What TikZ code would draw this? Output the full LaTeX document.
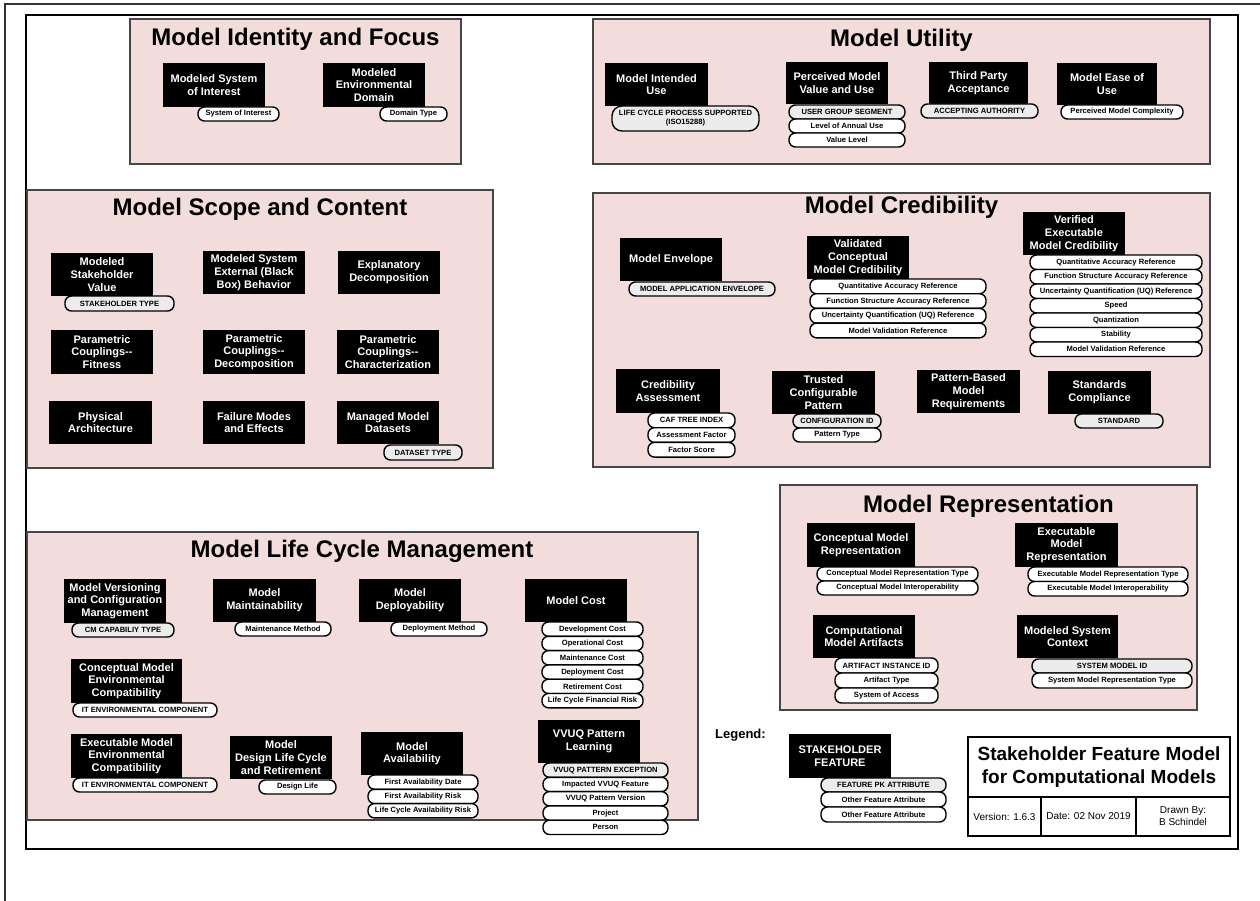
\documentclass[tikz,border=0pt]{standalone}
\usepackage{fontspec}
\setmainfont{Liberation Sans}
\definecolor{grpfill}{RGB}{242,221,220}
\definecolor{pkfill}{RGB}{236,236,236}
\definecolor{grpline}{RGB}{70,70,70}
\newcommand\ftitle{\fontsize{24}{28}\selectfont\bfseries}
\newcommand\ffeat{\fontsize{11}{12.7}\selectfont\bfseries}
\newcommand\fpill{\fontsize{7.6}{9}\selectfont\bfseries}
\tikzset{
  grpbox/.style={draw=grpline, fill=grpfill, line width=1.2pt, inner sep=0pt},
  grptitle/.style={font=\ftitle, inner sep=0pt, anchor=base},
  featbox/.style={fill=black, text=white, font=\ffeat, align=center, inner sep=0pt},
  pillbox/.style={draw=black, fill=white, line width=1.4pt, rounded corners=6.5pt, font=\fpill, align=center, inner sep=0pt},
  cell/.style={draw=black, line width=1.5pt, inner sep=0pt, align=center}
}
% box from corners: style, name, x1, y1, x2, y2, text
\newcommand\bx[7]{\node[#1, minimum width={#5-#3}, minimum height={#6-#4}] (#2) at ({(#3+#5)/2},{(#4+#6)/2}) {#7};}
\newcommand\grp[5]{\bx{grpbox}{#1}{#2}{#3}{#4}{#5}{}}
\newcommand\fb[6]{\bx{featbox}{#1}{#2}{#3}{#4}{#5}{#6}}
\newcommand\pw[6]{\bx{pillbox}{#1}{#2}{#3}{#4}{#5}{#6}}
\newcommand\pg[6]{\bx{pillbox,fill=pkfill}{#1}{#2}{#3}{#4}{#5}{#6}}
% stack: name prefix, x1, x2, y0, step, list
\newcommand\pstack[6]{\foreach \t [count=\i] in {#6} {\node[pillbox, minimum width={#3-#2}, minimum height={#5}] (#1\i) at ({(#2+#3)/2},{#4+#5*(\i-0.5)}) {\t};}}
\begin{document}
\begin{tikzpicture}[x=1pt,y=-1pt]
\useasboundingbox (0,0) rectangle (1260,901);
\fill[white] (0,0) rectangle (1260,901);
\draw[line width=2pt, black!80] (5,901) -- (5,4) -- (1260,4);
\bx{draw=black, line width=1.2pt, inner sep=0pt}{frame}{26}{15}{1238}{849}{}

% ---------- Model Identity and Focus
\grp{gid}{130}{19}{461}{164}
\node[grptitle] (gidt) at (295.5,46) {Model Identity and Focus};
\fb{msoi}{163}{63}{265}{107}{Modeled System\\of Interest}
\pw{msoia}{198}{107}{279}{121}{System of Interest}
\fb{med}{323}{63}{425}{107}{Modeled\\Environmental\\Domain}
\pw{meda}{380}{107}{447}{121}{Domain Type}

% ---------- Model Utility
\grp{gut}{593}{19}{1210}{164}
\node[grptitle] (gutt) at (901.5,47) {Model Utility};
\fb{miu}{605}{63}{708}{106}{Model Intended\\Use}
\bx{pillbox,fill=pkfill,rounded corners=10pt}{miua}{612}{106}{759}{131}{LIFE CYCLE PROCESS SUPPORTED\\(ISO15288)}
\fb{pmv}{786}{62}{888}{104}{Perceived Model\\Value and Use}
\pg{pmva}{789}{105}{905}{119}{USER GROUP SEGMENT}
\pstack{pmvb}{789}{905}{119}{14}{Level of Annual Use, Value Level}
\fb{tpa}{929}{62}{1028}{104}{Third Party\\Acceptance}
\pg{tpaa}{921}{104}{1038}{118}{ACCEPTING AUTHORITY}
\fb{meu}{1057}{63}{1157}{105}{Model Ease of\\Use}
\pw{meua}{1061}{105}{1183}{119}{Perceived Model Complexity}

% ---------- Model Scope and Content
\grp{gsc}{27}{190}{493}{468}
\node[grptitle] (gsct) at (260,216) {Model Scope and Content};
\fb{msv}{51}{253}{153}{296}{Modeled\\Stakeholder\\Value}
\pg{msva}{65}{296}{174}{311}{STAKEHOLDER TYPE}
\fb{mse}{203}{251}{305}{294}{Modeled System\\External (Black\\Box) Behavior}
\fb{exd}{338}{251}{440}{294}{Explanatory\\Decomposition}
\fb{pcf}{51}{330}{153}{374}{Parametric\\Couplings-{}-\\Fitness}
\fb{pcd}{203}{330}{305}{374}{Parametric\\Couplings-{}-\\Decomposition}
\fb{pcc}{337}{330}{439}{374}{Parametric\\Couplings-{}-\\Characterization}
\fb{pha}{49}{401}{152}{444}{Physical\\Architecture}
\fb{fme}{203}{401}{305}{444}{Failure Modes\\and Effects}
\fb{mmd}{337}{401}{439}{444}{Managed Model\\Datasets}
\pg{mmda}{384}{445}{462}{460}{DATASET TYPE}

% ---------- Model Credibility
\grp{gcr}{593}{193}{1210}{467}
\node[grptitle] (gcrt) at (901.5,214) {Model Credibility};
\fb{men}{620}{238}{722}{281}{Model Envelope}
\pg{mena}{629}{282}{775}{296}{MODEL APPLICATION ENVELOPE}
\fb{vcm}{807}{236}{909}{279}{Validated\\Conceptual\\Model Credibility}
\pstack{vcma}{810}{986}{279}{14.7}{Quantitative Accuracy Reference, Function Structure Accuracy Reference, Uncertainty Quantification (UQ) Reference, Model Validation Reference}
\fb{vem}{1023}{212}{1125}{255}{Verified\\Executable\\Model Credibility}
\pstack{vema}{1030}{1202}{255}{14.5}{Quantitative Accuracy Reference, Function Structure Accuracy Reference, Uncertainty Quantification (UQ) Reference, Speed, Quantization, Stability, Model Validation Reference}
\fb{cas}{616}{369}{720}{413}{Credibility\\Assessment}
\pstack{casa}{648}{735}{413}{14.7}{CAF TREE INDEX, Assessment Factor, Factor Score}
\fb{tcp}{772}{371}{875}{414}{Trusted\\Configurable\\Pattern}
\pg{tcpa}{793}{414}{881}{428}{CONFIGURATION ID}
\pw{tcpb}{793}{428}{881}{442}{Pattern Type}
\fb{pbr}{917}{370}{1020}{413}{Pattern-Based\\Model\\Requirements}
\fb{stc}{1048}{371}{1151}{414}{Standards\\Compliance}
\pg{stca}{1075}{414}{1163}{428}{STANDARD}

% ---------- Model Representation
\grp{grp}{780}{485}{1197}{710}
\node[grptitle] (grpt) at (988.5,512) {Model Representation};
\fb{cmr}{807}{523}{915}{567}{Conceptual Model\\Representation}
\pstack{cmra}{817}{978}{567}{14}{Conceptual Model Representation Type, Conceptual Model Interoperability}
\fb{emr}{1015}{523}{1118}{567}{Executable\\Model\\Representation}
\pstack{emra}{1028}{1188}{567}{14.5}{Executable Model Representation Type, Executable Model Interoperability}
\fb{cma}{813}{615}{915}{658}{Computational\\Model Artifacts}
\pstack{cmaa}{835}{938}{658}{15}{ARTIFACT INSTANCE ID, Artifact Type, System of Access}
\fb{msc}{1017}{615}{1118}{658}{Modeled System\\Context}
\pg{msca}{1032}{659}{1192}{673}{SYSTEM MODEL ID}
\pw{mscb}{1032}{673}{1192}{688}{System Model Representation Type}

% ---------- Model Life Cycle Management
\grp{glc}{27}{532}{698}{820}
\node[grptitle] (glct) at (362,557) {Model Life Cycle Management};
\fb{mvc}{64}{579}{166}{623}{Model Versioning\\and Configuration\\Management}
\pg{mvca}{72}{623}{174}{637}{CM CAPABILIY TYPE}
\fb{mma}{213}{579}{316}{622}{Model\\Maintainability}
\pw{mmaa}{235}{622}{331}{636}{Maintenance Method}
\fb{mde}{359}{579}{461}{622}{Model\\Deployability}
\pw{mdea}{391}{622}{487}{636}{Deployment Method}
\fb{mco}{525}{579}{627}{622}{Model Cost}
\pstack{mcoa}{542}{643}{622}{14.3}{Development Cost, Operational Cost, Maintenance Cost, Deployment Cost, Retirement Cost, Life Cycle Financial Risk}
\fb{cme}{71}{659}{182}{703}{Conceptual Model\\Environmental\\Compatibility}
\pw{cmea}{73}{703}{217}{717}{IT ENVIRONMENTAL COMPONENT}
\fb{eme}{71}{734}{182}{778}{Executable Model\\Environmental\\Compatibility}
\pw{emea}{73}{778}{217}{792}{IT ENVIRONMENTAL COMPONENT}
\fb{mdl}{230}{736}{332}{779}{Model\\Design Life Cycle\\and Retirement}
\pw{mdla}{259}{780}{336}{794}{Design Life}
\fb{mav}{361}{732}{463}{775}{Model\\Availability}
\pstack{mava}{368}{478}{775}{14.3}{First Availability Date, First Availability Risk, Life Cycle Availability Risk}
\fb{vpl}{538}{720}{640}{763}{VVUQ Pattern\\Learning}
\pg{vpla}{543}{763}{668}{777.3}{VVUQ PATTERN EXCEPTION}
\pstack{vplb}{543}{668}{777.3}{14.3}{Impacted VVUQ Feature, VVUQ Pattern Version, Project, Person}

% ---------- Legend
\node[anchor=base west, inner sep=0pt, font=\fontsize{13}{15}\selectfont\bfseries] (leg) at (715,738) {Legend:};
\fb{legf}{789}{734}{891}{778}{STAKEHOLDER\\FEATURE}
\pg{lega}{821}{778}{946}{792}{FEATURE PK ATTRIBUTE}
\pstack{legb}{821}{946}{792}{15}{Other Feature Attribute, Other Feature Attribute}

% ---------- Title block
\bx{cell, font=\fontsize{19}{23}\selectfont\bfseries}{tbt}{968}{737}{1230}{797}{Stakeholder Feature Model\\for Computational Models}
\bx{cell, font=\fontsize{10}{12}\selectfont}{tbv}{968}{797}{1041}{836}{Version: 1.6.3}
\bx{cell, font=\fontsize{10}{12}\selectfont}{tbd}{1041}{797}{1136}{836}{Date: 02 Nov 2019}
\bx{cell, font=\fontsize{10}{12}\selectfont}{tbb}{1136}{797}{1230}{836}{Drawn By:\\B Schindel}
\end{tikzpicture}
\end{document}
